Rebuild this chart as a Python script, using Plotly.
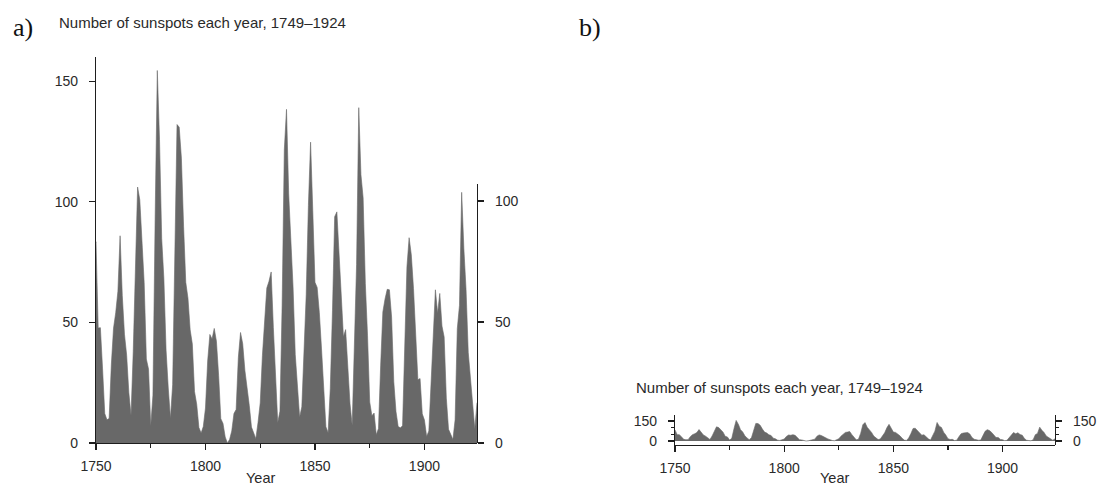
import plotly.graph_objects as go

years = list(range(1749, 1925))
sunspots = [
    80.9, 83.4, 47.7, 47.8, 30.7, 12.2, 9.6, 10.2, 32.4, 47.6,
    54.0, 62.9, 85.9, 61.2, 45.1, 36.4, 20.9, 11.4, 37.8, 69.8,
    106.1, 100.8, 81.6, 66.5, 34.8, 30.6, 7.0, 19.8, 92.5, 154.4,
    125.9, 84.8, 68.1, 38.5, 22.8, 10.2, 24.1, 82.9, 132.0, 130.9,
    118.1, 89.9, 66.6, 60.0, 46.9, 41.0, 21.3, 16.0, 6.4, 4.1,
    6.8, 14.5, 34.0, 45.0, 43.1, 47.5, 42.2, 28.1, 10.1, 8.1,
    2.5, 0.0, 1.4, 5.0, 12.2, 13.9, 35.4, 45.8, 41.1, 30.1,
    23.9, 15.6, 6.6, 4.0, 1.8, 8.5, 16.6, 36.3, 49.6, 64.2,
    67.0, 70.9, 47.8, 27.5, 8.5, 13.2, 56.9, 121.5, 138.3, 103.2,
    85.7, 64.6, 36.7, 24.2, 10.7, 15.0, 40.1, 61.5, 98.5, 124.7,
    96.3, 66.6, 64.5, 54.1, 39.0, 20.6, 6.7, 4.3, 22.7, 54.8,
    93.8, 95.8, 77.2, 59.1, 44.0, 47.0, 30.5, 16.3, 7.3, 37.6,
    74.0, 139.0, 111.2, 101.6, 66.2, 44.7, 17.0, 11.3, 12.4, 3.4,
    6.0, 32.3, 54.3, 59.7, 63.7, 63.5, 52.2, 25.4, 13.1, 6.8,
    6.3, 7.1, 35.6, 73.0, 85.1, 78.0, 64.0, 41.8, 26.2, 26.7,
    12.1, 9.5, 2.7, 5.0, 24.4, 42.0, 63.5, 53.8, 62.0, 48.5,
    43.9, 18.6, 5.7, 3.6, 1.4, 9.6, 47.4, 57.1, 103.9, 80.6,
    63.6, 37.6, 26.1, 14.2, 5.8, 16.7,
]

x_ticks = [1750, 1800, 1850, 1900]
y_ticks_a = [0, 50, 100, 150]
y_ticks_a_right = [0, 50, 100]
y_ticks_b = [0, 150]
title_text = "Number of sunspots each year, 1749\u20131924"

W, H = 1098, 486
FONT = "Liberation Sans, Arial, Helvetica, sans-serif"
TXT = "#2a2a2a"
FILL = "#686868"
AX = "#1e1e1e"


def px_x(p):
    return p / W


def px_y(p):
    return (H - p) / H


fig = go.Figure()

fill_kw = dict(mode="lines", fill="tozeroy", fillcolor=FILL,
               line=dict(color=FILL, width=0.6), hoverinfo="skip",
               showlegend=False)

fig.add_trace(go.Scatter(x=years, y=sunspots, xaxis="x", yaxis="y", **fill_kw))
fig.add_trace(go.Scatter(x=years, y=sunspots, xaxis="x2", yaxis="y2", **fill_kw))
# helpers so the right-hand axes render
fig.add_trace(go.Scatter(x=years, y=sunspots, xaxis="x", yaxis="y3", mode="lines",
                         line=dict(width=0), opacity=0, hoverinfo="skip", showlegend=False))
fig.add_trace(go.Scatter(x=years, y=sunspots, xaxis="x2", yaxis="y4", mode="lines",
                         line=dict(width=0), opacity=0, hoverinfo="skip", showlegend=False))

tickfont = dict(family=FONT, size=14, color=TXT)
common_x = dict(range=[1750, 1924], tickvals=x_ticks, showline=True, linecolor=AX,
                linewidth=1.2, ticks="outside", ticklen=6, tickwidth=1.2, tickcolor=AX,
                tickfont=tickfont, showgrid=False, zeroline=False, fixedrange=True,
                automargin=False,
                minor=dict(tickvals=[1775, 1825, 1875], ticks="outside", ticklen=4,
                           tickwidth=1.2, tickcolor=AX),
                ticklabelstandoff=4)
common_y = dict(showline=True, linecolor=AX, linewidth=1.2, ticks="outside",
                ticklen=6, tickwidth=1.2, tickcolor=AX, tickfont=tickfont,
                showgrid=False, zeroline=False, fixedrange=True, automargin=False)

fig.update_layout(
    width=W, height=H,
    margin=dict(l=0, r=0, t=0, b=0, autoexpand=False),
    paper_bgcolor="white", plot_bgcolor="rgba(0,0,0,0)",
    xaxis=dict(domain=[px_x(96), px_x(477)], anchor="y", **common_x),
    yaxis=dict(domain=[px_y(443), px_y(57)], anchor="x", range=[0, 160],
               tickvals=y_ticks_a, ticklabelstandoff=8, **common_y),
    yaxis3=dict(domain=[px_y(443), px_y(184)], anchor="x", side="right",
                range=[0, 107], tickvals=y_ticks_a_right, ticklabelstandoff=8, **common_y),
    xaxis2=dict(domain=[px_x(675), px_x(1055)], anchor="y2", **common_x),
    yaxis2=dict(domain=[px_y(445), px_y(415)], anchor="x2", range=[-30, 195],
                tickvals=y_ticks_b, ticklabelstandoff=8,
                minor=dict(tickvals=[50, 100], ticks="outside", ticklen=3,
                           tickwidth=1.2, tickcolor=AX),
                **common_y),
    yaxis4=dict(domain=[px_y(445), px_y(415)], anchor="x2", side="right",
                range=[-30, 195], tickvals=y_ticks_b, ticklabelstandoff=8,
                minor=dict(tickvals=[50, 100], ticks="outside", ticklen=3,
                           tickwidth=1.2, tickcolor=AX),
                **common_y),
)

ann_font = dict(family=FONT, size=15, color=TXT)
serif = dict(family="Liberation Serif, Times New Roman, serif", size=26, color="#111")
annotations = [
    dict(text="a)", x=px_x(11), y=px_y(28), xanchor="left", yanchor="middle", font=serif),
    dict(text="b)", x=px_x(577), y=px_y(28), xanchor="left", yanchor="middle", font=serif),
    dict(text=title_text, x=px_x(57), y=px_y(22), xanchor="left", yanchor="middle", font=ann_font),
    dict(text=title_text, x=px_x(634), y=px_y(387), xanchor="left", yanchor="middle", font=ann_font),
    dict(text="Year", x=px_x(260), y=px_y(478), xanchor="center", yanchor="middle",
         font=dict(family=FONT, size=14.5, color=TXT)),
    dict(text="Year", x=px_x(834), y=px_y(478), xanchor="center", yanchor="middle",
         font=dict(family=FONT, size=14.5, color=TXT)),
]
for a in annotations:
    a.update(xref="paper", yref="paper", showarrow=False)
fig.update_layout(annotations=annotations)

fig.write_html(
    "out.html",
    config={"displayModeBar": False, "staticPlot": True},
    post_script="document.body.style.margin='0';document.body.style.overflow='hidden';",
)
